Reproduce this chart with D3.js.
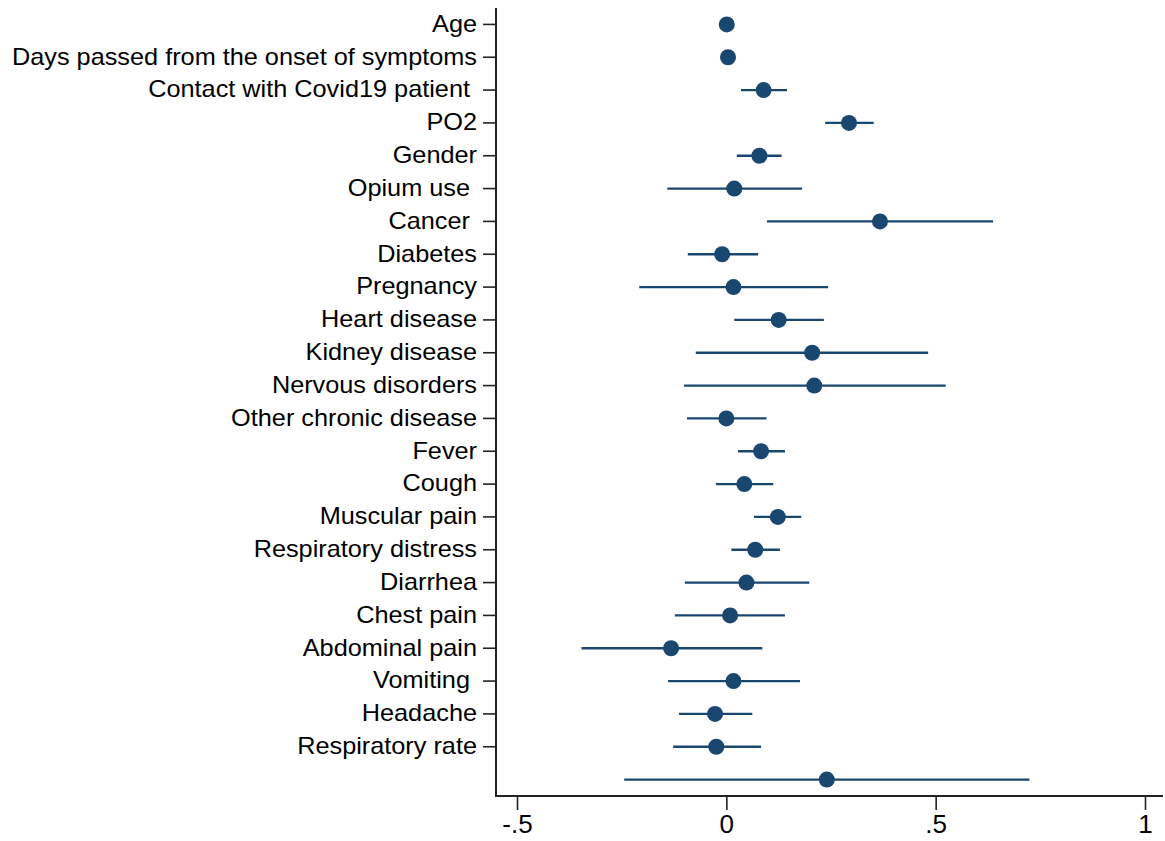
<!DOCTYPE html>
<html>
<head>
<meta charset="utf-8">
<script src="https://cdn.jsdelivr.net/npm/d3@7"></script>
<style>
  body { margin: 0; background: #fff; }
  text { font-family: "Liberation Sans", Arial, sans-serif; white-space: pre; }
</style>
</head>
<body>
<svg id="canvas" width="1165" height="841"></svg>
<script>
// Data (labels keep the trailing spaces seen in the original)
let labels = ['Age', 'Days passed from the onset of symptoms', 'Contact with Covid19 patient ', 'PO2',
  'Gender', 'Opium use ', 'Cancer ', 'Diabetes', 'Pregnancy', 'Heart disease', 'Kidney disease',
  'Nervous disorders', 'Other chronic disease', 'Fever', 'Cough', 'Muscular pain',
  'Respiratory distress', 'Diarrhea', 'Chest pain', 'Abdominal pain', 'Vomiting ', 'Headache',
  'Respiratory rate', '']
let coef  = [0.001, 0.004, 0.089, 0.293, 0.079, 0.019, 0.367, -0.010, 0.017, 0.125, 0.205, 0.210,
  0.000, 0.083, 0.043, 0.123, 0.069, 0.048, 0.009, -0.132, 0.017, -0.027, -0.024, 0.240]
let lower = [-0.001, 0.002, 0.035, 0.236, 0.025, -0.141, 0.097, -0.092, -0.208, 0.019, -0.073, -0.101,
  -0.094, 0.028, -0.025, 0.066, 0.012, -0.099, -0.123, -0.346, -0.139, -0.113, -0.127, -0.244]
let upper = [0.003, 0.006, 0.145, 0.352, 0.132, 0.181, 0.637, 0.076, 0.243, 0.233, 0.482, 0.524,
  0.096, 0.140, 0.112, 0.179, 0.128, 0.198, 0.140, 0.086, 0.176, 0.062, 0.083, 0.724]
let xTicks = [-0.5, 0, 0.5, 1]
let xTickLabels = ['-.5', '0', '.5', '1']

let canvas = d3.select('#canvas')
let navy = '#1a476f'

let plotLeft = 496, plotRight = 1163, plotTop = 8, plotBottom = 796

let x = d3.scaleLinear().domain([-0.5, 1]).range([517, 1145])
let y = d3.scaleBand().domain(d3.range(labels.length)).range([plotTop, plotBottom])

// axes
let xAxis = d3.axisBottom(x).tickValues(xTicks).tickFormat((d, i) => xTickLabels[i]).tickSize(14).tickPadding(5)
let gx = canvas.append('g').attr('transform', `translate(0,${plotBottom})`).call(xAxis)
gx.select('.domain').remove()
gx.selectAll('line').attr('stroke', '#222').attr('stroke-width', 1.6)
gx.selectAll('text').attr('fill', '#000').style('font-size', '26px').attr('font-family', null)

// only labelled rows get a tick
let yAxis = d3.axisLeft(y).tickValues(d3.range(labels.length).filter(i => labels[i] !== ''))
  .tickFormat(i => labels[i]).tickSize(13).tickPadding(6)
let gy = canvas.append('g').attr('transform', `translate(${plotLeft},0)`).call(yAxis)
gy.select('.domain').remove()
gy.selectAll('line').attr('stroke', '#222').attr('stroke-width', 1.6)
gy.selectAll('text').attr('fill', '#000').style('font-size', '23px').attr('font-family', null)
  .attr('transform', 'translate(-19,0) scale(1.1,1) translate(19,0)')

// axis frame (L shape)
canvas.append('path')
  .attr('d', `M${plotLeft},${plotTop}V${plotBottom}H${plotRight}`)
  .attr('fill', 'none').attr('stroke', '#222').attr('stroke-width', 2)

// confidence intervals
canvas.selectAll('line.ci')
  .data(coef)
  .enter()
  .append('line')
  .attr('class', 'ci')
  .attr('x1', (d, i) => x(lower[i]))
  .attr('x2', (d, i) => x(upper[i]))
  .attr('y1', (d, i) => y(i) + y.bandwidth() / 2)
  .attr('y2', (d, i) => y(i) + y.bandwidth() / 2)
  .attr('stroke', navy)
  .attr('stroke-width', 2.4)

// point estimates
canvas.selectAll('circle')
  .data(coef)
  .enter()
  .append('circle')
  .attr('cx', d => x(d))
  .attr('cy', (d, i) => y(i) + y.bandwidth() / 2)
  .attr('r', 8)
  .attr('fill', navy)
</script>
</body>
</html>
